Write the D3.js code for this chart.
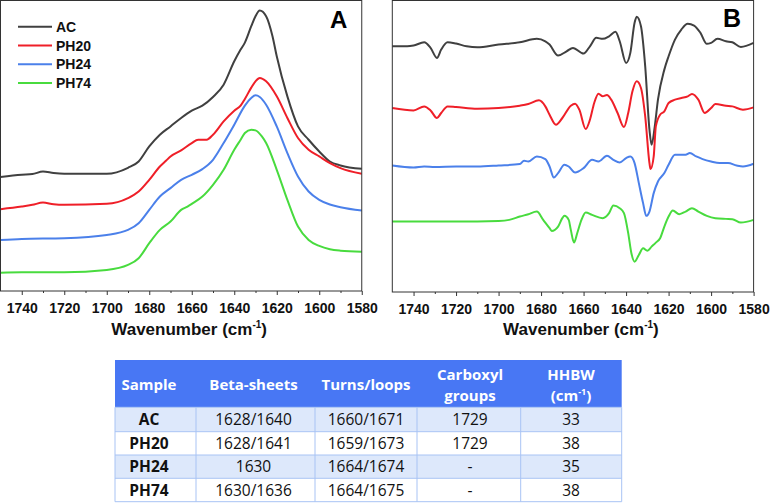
<!DOCTYPE html>
<html><head><meta charset="utf-8">
<script src="https://cdn.jsdelivr.net/npm/d3@7"></script>
<style>body{margin:0;background:#fff}svg{display:block}</style>
</head><body>
<svg id="chart" width="771" height="504"></svg>
<script>
// ---------- DATA ----------
const seriesNames = ["AC", "PH20", "PH24", "PH74"];
const seriesColors = ["#404040", "#ef1f28", "#4b80ea", "#48db3e"];
const xTicks = [1740, 1720, 1700, 1680, 1660, 1640, 1620, 1600, 1580];
const xMinorTicks = [1750, 1730, 1710, 1690, 1670, 1650, 1630, 1610, 1590];

// Panel A: absorbance (a.u., offset) [wavenumber, value]
const absAC = [[1750,1.137],[1740,1.16],[1735,1.167],[1730,1.193],[1725,1.177],[1720,1.17],[1700,1.17],[1690,1.23],[1685,1.293],[1680,1.443],[1675,1.56],[1670,1.643],[1665,1.727],[1660,1.80],[1655,1.85],[1650,1.937],[1645,2.06],[1640,2.293],[1637,2.41],[1635,2.48],[1632,2.643],[1630,2.743],[1628,2.80],[1625,2.743],[1622,2.543],[1620,2.343],[1615,1.943],[1610,1.643],[1605,1.51],[1600,1.393],[1595,1.293],[1590,1.253],[1580,1.22]];
const absPH20 = [[1750,0.817],[1740,0.843],[1735,0.86],[1730,0.883],[1725,0.865],[1720,0.86],[1700,0.87],[1690,0.927],[1685,0.993],[1680,1.11],[1675,1.243],[1672,1.303],[1670,1.343],[1665,1.403],[1660,1.477],[1657,1.51],[1653,1.51],[1650,1.56],[1645,1.693],[1640,1.80],[1637,1.85],[1635,1.917],[1632,2.03],[1630,2.093],[1628,2.127],[1625,2.093],[1620,1.943],[1615,1.727],[1610,1.527],[1605,1.41],[1600,1.343],[1595,1.277],[1590,1.227],[1580,1.17]];
const absPH24 = [[1750,0.51],[1740,0.52],[1720,0.527],[1700,0.56],[1690,0.61],[1685,0.677],[1680,0.81],[1675,0.943],[1670,1.027],[1665,1.11],[1660,1.16],[1655,1.217],[1650,1.31],[1645,1.477],[1640,1.66],[1635,1.85],[1632,1.927],[1630,1.953],[1628,1.937],[1625,1.86],[1620,1.643],[1615,1.377],[1610,1.143],[1605,0.993],[1600,0.91],[1595,0.863],[1590,0.837],[1580,0.803]];
const absPH74 = [[1750,0.183],[1740,0.187],[1720,0.187],[1700,0.21],[1690,0.26],[1685,0.327],[1680,0.477],[1675,0.61],[1670,0.693],[1665,0.81],[1662,0.843],[1660,0.87],[1655,0.943],[1650,1.06],[1645,1.21],[1640,1.41],[1637,1.51],[1635,1.577],[1632,1.61],[1630,1.603],[1627,1.543],[1625,1.477],[1620,1.21],[1615,0.91],[1610,0.643],[1605,0.51],[1600,0.45],[1595,0.417],[1590,0.403],[1580,0.393]];

// Panel B: second derivative (a.u., offset) [wavenumber, value]
const derAC = [[1750,2.453],[1743,2.453],[1740,2.46],[1735,2.493],[1732,2.437],[1729,2.337],[1727,2.42],[1724,2.493],[1720,2.48],[1715,2.453],[1710,2.443],[1700,2.47],[1690,2.493],[1682,2.527],[1678,2.503],[1676,2.47],[1672,2.36],[1668,2.403],[1665,2.437],[1660,2.38],[1657,2.453],[1654,2.537],[1651,2.527],[1648,2.553],[1645,2.597],[1643,2.503],[1640,2.287],[1638,2.387],[1636,2.687],[1635,2.747],[1633,2.653],[1631,2.253],[1629,1.62],[1628,1.47],[1626.5,1.653],[1625,1.92],[1622,2.22],[1620,2.353],[1617,2.52],[1614,2.62],[1611,2.677],[1608,2.66],[1605,2.587],[1602,2.477],[1600,2.487],[1597,2.527],[1593,2.503],[1590,2.493],[1586,2.447],[1580,2.487]];
const derPH20 = [[1750,1.837],[1740,1.813],[1735,1.853],[1732,1.813],[1729,1.737],[1727,1.787],[1724,1.853],[1720,1.847],[1710,1.83],[1700,1.837],[1690,1.86],[1686,1.877],[1681,1.913],[1678,1.853],[1676,1.77],[1673,1.67],[1670,1.737],[1666,1.86],[1664,1.88],[1662,1.82],[1659,1.627],[1657,1.72],[1655,1.887],[1653,1.98],[1651,1.953],[1649,1.967],[1647,1.92],[1644,1.787],[1641,1.647],[1639,1.787],[1637,2.003],[1635,2.103],[1633,2.037],[1631,1.753],[1629,1.287],[1628.5,1.227],[1627,1.353],[1626,1.653],[1624,1.77],[1622,1.803],[1620,1.887],[1617,1.92],[1614,1.937],[1611,1.953],[1609,1.977],[1606,1.92],[1603,1.787],[1600,1.837],[1598,1.877],[1593,1.86],[1590,1.853],[1585,1.82],[1580,1.843]];
const derPH24 = [[1750,1.263],[1740,1.243],[1735,1.253],[1730,1.247],[1720,1.253],[1710,1.253],[1700,1.263],[1690,1.277],[1688,1.31],[1686,1.303],[1682,1.353],[1678,1.327],[1676,1.253],[1674,1.143],[1672,1.187],[1669,1.27],[1667,1.253],[1664,1.193],[1660,1.237],[1656,1.32],[1653,1.303],[1649,1.36],[1646,1.32],[1643,1.293],[1640,1.337],[1638,1.353],[1636,1.287],[1634,1.087],[1632,0.887],[1630.5,0.76],[1629,0.803],[1627,0.987],[1625,1.103],[1622,1.187],[1620,1.27],[1617,1.37],[1614,1.37],[1612,1.37],[1610,1.387],[1607,1.353],[1604,1.327],[1600,1.303],[1596,1.287],[1592,1.287],[1588,1.263],[1585,1.253],[1580,1.28]];
const derPH74 = [[1750,0.703],[1740,0.703],[1720,0.703],[1700,0.71],[1695,0.72],[1690,0.753],[1686,0.777],[1682,0.803],[1679,0.72],[1676,0.637],[1675,0.61],[1672,0.653],[1670,0.737],[1669,0.76],[1667,0.72],[1666,0.62],[1664.5,0.493],[1663,0.587],[1661,0.72],[1659,0.793],[1656,0.77],[1651,0.737],[1648,0.787],[1646,0.863],[1643,0.837],[1641,0.787],[1639,0.587],[1637.5,0.387],[1636,0.303],[1634,0.37],[1632,0.437],[1630,0.413],[1628,0.453],[1626,0.493],[1624,0.537],[1622,0.653],[1620,0.753],[1618,0.813],[1615,0.777],[1612,0.803],[1609,0.837],[1606,0.803],[1602,0.76],[1598,0.737],[1593,0.73],[1590,0.727],[1586,0.693],[1580,0.72]];

// Table
const tableHeaders = [["Sample"], ["Beta-sheets"], ["Turns/loops"], ["Carboxyl", "groups"], ["HHBW", "(cm-1)"]];
const tableRows = [
  ["AC", "1628/1640", "1660/1671", "1729", "33"],
  ["PH20", "1628/1641", "1659/1673", "1729", "38"],
  ["PH24", "1630", "1664/1674", "-", "35"],
  ["PH74", "1630/1636", "1664/1675", "-", "38"]
];

// ---------- DRAWING ----------
const svg = d3.select("#chart");
const FONT = "Arial, 'Liberation Sans', sans-serif";

function drawPanel(cfg) {
  const x = d3.scaleLinear().domain([1750, 1580]).range([cfg.left, cfg.right]);
  const y = d3.scaleLinear().domain(cfg.yDomain).range([cfg.bottom, cfg.top]);
  const g = svg.append("g");
  const line = d3.line().x(d => x(d[0])).y(d => y(d[1])).curve(d3.curveMonotoneX);
  cfg.series.forEach((s, i) => {
    g.append("path").datum(s).attr("d", line)
      .attr("fill", "none").attr("stroke", seriesColors[i])
      .attr("stroke-width", 2).attr("stroke-linejoin", "round");
  });
  // frame
  g.append("rect").attr("x", cfg.left).attr("y", cfg.top)
    .attr("width", cfg.right - cfg.left).attr("height", cfg.bottom - cfg.top)
    .attr("fill", "none").attr("stroke", "#333").attr("stroke-width", 1);
  // axes
  const ax = g.append("g").attr("transform", `translate(0,${cfg.bottom})`)
    .call(d3.axisBottom(x).tickValues(xTicks).tickSize(4).tickSizeOuter(0).tickPadding(8).tickFormat(d3.format("d")));
  ax.select(".domain").remove();
  ax.selectAll("line").attr("stroke", "#333");
  ax.selectAll("text").attr("font-family", FONT).attr("font-size", 14)
    .attr("font-weight", "bold").attr("fill", "#111");
  const axm = g.append("g").attr("transform", `translate(0,${cfg.bottom})`)
    .call(d3.axisBottom(x).tickValues(xMinorTicks.filter(v => v > 1580 && v < 1750)).tickSize(2).tickSizeOuter(0).tickFormat(""));
  axm.select(".domain").remove();
  axm.selectAll("line").attr("stroke", "#333");
  // title
  const t = g.append("text").attr("x", (cfg.left + cfg.right) / 2 + 8).attr("y", 335)
    .attr("text-anchor", "middle").attr("font-family", FONT).attr("font-size", 17)
    .attr("font-weight", "bold").attr("fill", "#111");
  t.append("tspan").text("Wavenumber (cm");
  t.append("tspan").text("-1").attr("font-size", 10).attr("dy", -7);
  t.append("tspan").text(")").attr("dy", 7);
  // panel letter
  g.append("text").attr("x", cfg.letterX).attr("y", cfg.letterY)
    .attr("font-family", FONT).attr("font-size", cfg.letterSize).attr("font-weight", "bold")
    .attr("fill", "#000").text(cfg.letter);
  return g;
}

drawPanel({left: 0.5, right: 361.75, top: 0.5, bottom: 291, yDomain: [0, 2.9],
  series: [absAC, absPH20, absPH24, absPH74], letter: "A", letterX: 330, letterY: 28.3, letterSize: 24});
drawPanel({left: 392.3, right: 753.6, top: 0.5, bottom: 292, yDomain: [0, 2.91],
  series: [derAC, derPH20, derPH24, derPH74], letter: "B", letterX: 723, letterY: 26.7, letterSize: 25});

// legend
const legY = [26.7, 45.5, 64.3, 83];
const leg = svg.append("g");
seriesNames.forEach((n, i) => {
  leg.append("line").attr("x1", 18).attr("x2", 52).attr("y1", legY[i]).attr("y2", legY[i])
    .attr("stroke", seriesColors[i]).attr("stroke-width", 2);
  leg.append("text").attr("x", 56).attr("y", legY[i] + 5).attr("font-family", FONT)
    .attr("font-size", 14).attr("font-weight", "bold").attr("fill", "#111").text(n);
});

// table
const TF = "'Open Sans', Lato, sans-serif";
const colEdges = [115, 196, 315, 417, 520.7, 621.7];
const colCenters = [149, 253.5, 366, 470, 571];
const headTop = 360, headBottom = 407.3;
const rowEdges = [407.3, 431.7, 455, 478.3, 501.7];
const tg = svg.append("g");
tg.append("rect").attr("x", colEdges[0]).attr("y", headTop)
  .attr("width", colEdges[5] - colEdges[0]).attr("height", headBottom - headTop).attr("fill", "#4877f4");
tableRows.forEach((r, i) => {
  tg.append("rect").attr("x", colEdges[0]).attr("y", rowEdges[i])
    .attr("width", colEdges[5] - colEdges[0]).attr("height", rowEdges[i + 1] - rowEdges[i])
    .attr("fill", i % 2 === 0 ? "#dde8fb" : "#ffffff");
});
// grid lines
const gridColor = "#a8c3f4";
rowEdges.forEach((yy, i) => {
  tg.append("line").attr("x1", colEdges[0]).attr("x2", colEdges[5]).attr("y1", yy).attr("y2", yy)
    .attr("stroke", gridColor).attr("stroke-width", 1);
});
colEdges.forEach((xx, i) => {
  tg.append("line").attr("x1", xx).attr("x2", xx).attr("y1", headBottom).attr("y2", rowEdges[4])
    .attr("stroke", gridColor).attr("stroke-width", 1);
});
// header text
tableHeaders.forEach((h, j) => {
  if (h.length === 1) {
    tg.append("text").attr("x", colCenters[j]).attr("y", 390).attr("text-anchor", "middle")
      .attr("font-family", TF).attr("font-size", 15).attr("font-weight", "bold").attr("fill", "#fff").text(h[0]);
  } else {
    h.forEach((ln, k) => {
      const t = tg.append("text").attr("x", colCenters[j]).attr("y", k === 0 ? 380 : 401).attr("text-anchor", "middle")
        .attr("font-family", TF).attr("font-size", 15).attr("font-weight", "bold").attr("fill", "#fff");
      if (ln === "(cm-1)") {
        t.append("tspan").text("(cm");
        t.append("tspan").text("-1").attr("font-size", 9).attr("dy", -6);
        t.append("tspan").text(")").attr("dy", 6);
      } else t.text(ln);
    });
  }
});
// body text
tableRows.forEach((r, i) => {
  const cy = (rowEdges[i] + rowEdges[i + 1]) / 2;
  r.forEach((v, j) => {
    tg.append("text").attr("x", colCenters[j]).attr("y", cy + 5.5).attr("text-anchor", "middle")
      .attr("font-family", TF).attr("font-size", 15.5).attr("font-weight", j === 0 ? "bold" : "normal")
      .attr("fill", "#111").text(v);
  });
});
</script>
</body></html>
